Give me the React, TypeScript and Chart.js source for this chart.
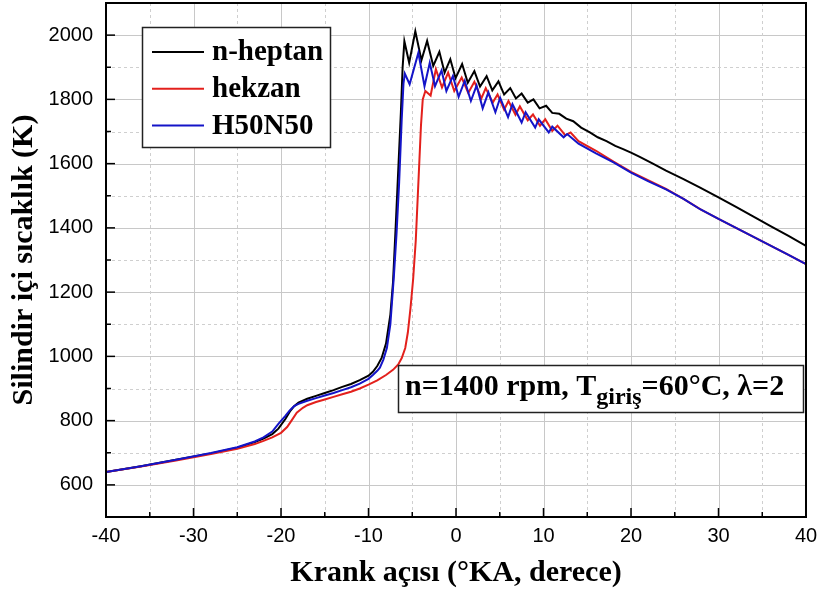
import React, { useEffect, useRef } from 'react';
import { Chart, registerables } from 'chart.js';

Chart.register(...registerables);

// ---- data ----
const seriesLabels = ['n-heptan', 'hekzan', 'H50N50'];
const seriesColors = ['#000000', '#e3201c', '#1414c8'];

const heptanAngle = [-40, -36, -32, -28, -25, -23, -22, -21, -20.3, -19.5, -19, -18.5, -18, -17, -16, -15, -14, -13, -12, -11, -10, -9.5, -9, -8.5, -8, -7.5, -7.2, -6.9, -6.6, -6.3, -6.1, -5.9, -5.35, -4.65, -3.95, -3.3, -2.6, -1.9, -1.3, -0.65, -0.05, 0.7, 1.35, 2.1, 2.75, 3.5, 4.15, 4.85, 5.5, 6.2, 6.85, 7.5, 8.2, 8.85, 9.55, 10.3, 11.0, 11.8, 12.6, 13.4, 14.3, 15.3, 16.2, 17.2, 18.2, 19.1, 20, 21, 22.5, 24, 26, 27.9, 30, 32, 34, 36, 38, 40];
const heptanTemp = [640, 658, 678, 698, 716, 733, 744, 758, 775, 805, 828, 845, 856, 868, 877, 886, 895, 905, 914, 926, 940, 952, 970, 995, 1040, 1130, 1230, 1400, 1580, 1760, 1900, 1981, 1914, 2012, 1922, 1982, 1904, 1948, 1883, 1925, 1866, 1910, 1852, 1888, 1840, 1872, 1828, 1856, 1815, 1835, 1803, 1818, 1790, 1800, 1772, 1780, 1758, 1755, 1740, 1732, 1712, 1697, 1682, 1670, 1655, 1645, 1634, 1621, 1600, 1578, 1552, 1525, 1495, 1465, 1435, 1405, 1375, 1344];

const hekzanAngle = [-40, -36, -32, -28, -25, -23, -22, -21, -20, -19.3, -18.8, -18.2, -17.5, -17, -16, -15, -14, -13, -12, -11, -10, -9, -8, -7.2, -6.6, -6.2, -5.8, -5.5, -5.2, -4.9, -4.6, -4.3, -4.0, -3.8, -3.5, -2.9, -2.3, -1.6, -0.9, -0.2, 0.65, 1.4, 2.1, 2.9, 3.4, 4.2, 4.75, 5.5, 6.0, 6.8, 7.3, 8.2, 8.8, 9.6, 10.2, 11.0, 11.6, 12.5, 13.1, 14, 16, 18, 20, 22, 24, 26, 28, 30, 32, 34, 36, 38, 40];
const hekzanTemp = [640, 657, 676, 696, 712, 727, 737, 748, 762, 780, 800, 825, 840, 848, 858, 866, 874, 882, 890, 900, 912, 925, 942, 958, 975, 995, 1026, 1075, 1150, 1240, 1360, 1540, 1720, 1800, 1826, 1812, 1894, 1837, 1883, 1826, 1868, 1820, 1855, 1803, 1835, 1790, 1815, 1768, 1795, 1752, 1778, 1735, 1753, 1718, 1738, 1702, 1718, 1688, 1697, 1670, 1640, 1606, 1574, 1548, 1521, 1490, 1457, 1428, 1400, 1372, 1344, 1316, 1287];

const h50n50Angle = [-40, -36, -32, -28, -25, -23, -22, -21, -20.3, -19.5, -19, -18.5, -18, -17, -16, -15, -14, -13, -12, -11, -10, -9.5, -9, -8.7, -8.3, -7.9, -7.5, -7.1, -6.8, -6.5, -6.2, -6.0, -5.85, -5.3, -4.3, -3.6, -3.0, -2.4, -1.65, -1.1, -0.35, 0.3, 1.0, 1.7, 2.35, 3.05, 3.7, 4.5, 5.05, 5.95, 6.45, 7.5, 7.95, 9.05, 9.45, 10.6, 11.0, 12.3, 12.7, 14, 16, 18, 20, 22, 24, 26, 27.9, 30, 32, 34, 36, 38, 40];
const h50n50Temp = [640, 658, 678, 699, 717, 735, 748, 766, 790, 815, 832, 845, 852, 862, 870, 878, 886, 895, 904, 915, 930, 942, 955, 965, 990, 1026, 1100, 1250, 1380, 1540, 1740, 1850, 1880, 1847, 1945, 1841, 1914, 1841, 1890, 1826, 1873, 1808, 1858, 1795, 1843, 1772, 1822, 1760, 1805, 1745, 1785, 1728, 1760, 1712, 1738, 1697, 1715, 1682, 1692, 1662, 1632, 1604, 1572, 1545, 1520, 1490, 1458, 1428, 1400, 1372, 1344, 1316, 1287];

const xTickValues = [-40, -30, -20, -10, 0, 10, 20, 30, 40];
const xMinorValues = [-35, -25, -15, -5, 5, 15, 25, 35];
const yTickValues = [600, 800, 1000, 1200, 1400, 1600, 1800, 2000];
const yMinorValues = [700, 900, 1100, 1300, 1500, 1700, 1900];

const xTitle = 'Krank açısı (°KA, derece)';
const yTitle = 'Silindir içi sıcaklık (K)';
const noteMain = 'n=1400 rpm, T';
const noteSub = 'giriş';
const noteTail = '=60°C, λ=2';

const SERIF = '"Liberation Serif", "Times New Roman", serif';
const SANS = '"Liberation Sans", Arial, sans-serif';

const toPoints = (xs: number[], ys: number[]) => xs.map((x, i) => ({ x, y: ys[i] }));

const decorPlugin = {
  id: 'decor',
  beforeDatasetsDraw(chart: any) {
    const { ctx, chartArea: a, scales } = chart;
    const xs = scales.x;
    const ys = scales.y;
    ctx.save();
    ctx.lineWidth = 1;
    ctx.strokeStyle = '#c8c8c8';
    ctx.setLineDash([]);
    xTickValues.forEach((v) => {
      const px = Math.round(xs.getPixelForValue(v)) + 0.5;
      ctx.beginPath(); ctx.moveTo(px, a.top); ctx.lineTo(px, a.bottom); ctx.stroke();
    });
    yTickValues.forEach((v) => {
      const py = Math.round(ys.getPixelForValue(v)) + 0.5;
      ctx.beginPath(); ctx.moveTo(a.left, py); ctx.lineTo(a.right, py); ctx.stroke();
    });
    ctx.strokeStyle = '#cfcfcf';
    ctx.setLineDash([3, 3]);
    xMinorValues.forEach((v) => {
      const px = Math.round(xs.getPixelForValue(v)) + 0.5;
      ctx.beginPath(); ctx.moveTo(px, a.top); ctx.lineTo(px, a.bottom); ctx.stroke();
    });
    yMinorValues.forEach((v) => {
      const py = Math.round(ys.getPixelForValue(v)) + 0.5;
      ctx.beginPath(); ctx.moveTo(a.left, py); ctx.lineTo(a.right, py); ctx.stroke();
    });
    ctx.restore();
  },
  afterDatasetsDraw(chart: any) {
    const { ctx, chartArea: a, scales } = chart;
    const xs = scales.x;
    const ys = scales.y;
    ctx.save();
    ctx.setLineDash([]);
    ctx.strokeStyle = '#000';
    ctx.lineWidth = 1.5;
    const tick = (v: number, len: number, horiz: boolean) => {
      if (horiz) {
        const px = xs.getPixelForValue(v);
        ctx.beginPath(); ctx.moveTo(px, a.bottom); ctx.lineTo(px, a.bottom - len); ctx.stroke();
      } else {
        const py = ys.getPixelForValue(v);
        ctx.beginPath(); ctx.moveTo(a.left, py); ctx.lineTo(a.left + len, py); ctx.stroke();
      }
    };
    xTickValues.forEach((v) => tick(v, 9, true));
    xMinorValues.forEach((v) => tick(v, 5, true));
    yTickValues.forEach((v) => tick(v, 9, false));
    yMinorValues.forEach((v) => tick(v, 5, false));
    ctx.lineWidth = 2;
    ctx.strokeRect(a.left, a.top, a.right - a.left, a.bottom - a.top);

    // legend
    const lx = 142, ly = 27, lw = 188, lh = 120;
    ctx.fillStyle = '#fff';
    ctx.fillRect(lx, ly, lw, lh);
    ctx.lineWidth = 1.5;
    ctx.strokeStyle = '#222';
    ctx.strokeRect(lx + 0.5, ly + 0.5, lw, lh);
    ctx.font = `bold 29px ${SERIF}`;
    ctx.textBaseline = 'middle';
    ctx.textAlign = 'left';
    chart.data.datasets.forEach((ds: any, i: number) => {
      const rowY = ly + 25 + i * 36.7;
      ctx.strokeStyle = ds.borderColor;
      ctx.lineWidth = 2;
      ctx.beginPath(); ctx.moveTo(lx + 10, rowY); ctx.lineTo(lx + 62, rowY); ctx.stroke();
      ctx.fillStyle = '#000';
      ctx.fillText(ds.label, lx + 70, rowY + 1);
    });

    // note box
    const nx = 398, ny = 365, nw = 405, nh = 47;
    ctx.fillStyle = '#fff';
    ctx.fillRect(nx, ny, nw, nh);
    ctx.strokeStyle = '#222';
    ctx.lineWidth = 1.5;
    ctx.strokeRect(nx + 0.5, ny + 0.5, nw, nh);
    ctx.fillStyle = '#000';
    ctx.textBaseline = 'alphabetic';
    const base = 395;
    let cx = 405;
    ctx.font = `bold 30px ${SERIF}`;
    ctx.fillText(noteMain, cx, base);
    cx += ctx.measureText(noteMain).width;
    ctx.font = `bold 24px ${SERIF}`;
    ctx.fillText(noteSub, cx, base + 9);
    cx += ctx.measureText(noteSub).width;
    ctx.font = `bold 30px ${SERIF}`;
    ctx.fillText(noteTail, cx, base);
    ctx.restore();
  },
};

export default function App() {
  const ref = useRef<HTMLCanvasElement>(null);
  useEffect(() => {
    document.body.style.margin = '0';
    const canvas = ref.current;
    if (!canvas) return;
    const mk = (i: number, xs: number[], ys: number[], order: number) => ({
      label: seriesLabels[i],
      data: toPoints(xs, ys),
      borderColor: seriesColors[i],
      backgroundColor: seriesColors[i],
      borderWidth: 2,
      pointRadius: 0,
      tension: 0,
      fill: false,
      order,
    });
    const chart = new Chart(canvas, {
      type: 'line',
      data: {
        datasets: [
          mk(0, heptanAngle, heptanTemp, 2),
          mk(1, hekzanAngle, hekzanTemp, 1),
          mk(2, h50n50Angle, h50n50Temp, 0),
        ],
      },
      options: {
        responsive: false,
        maintainAspectRatio: false,
        animation: false,
        layout: { padding: { left: 0, right: 13, top: 3, bottom: 0 } },
        plugins: { legend: { display: false }, tooltip: { enabled: false } },
        scales: {
          x: {
            type: 'linear',
            min: -40,
            max: 40,
            grid: { display: false, drawTicks: false },
            border: { display: false },
            afterBuildTicks: (s: any) => { s.ticks = xTickValues.map((v) => ({ value: v })); },
            afterFit: (s: any) => { s.height = 78; s.paddingLeft = 0; s.paddingRight = 0; },
            ticks: {
              font: { family: SANS, size: 20 },
              color: '#000',
              padding: 7,
              maxRotation: 0,
              autoSkip: false,
              callback: (v: any) => String(v),
            },
            title: {
              display: true,
              text: xTitle,
              color: '#000',
              font: { family: SERIF, size: 30, weight: 'bold' },
              padding: { top: 0, bottom: 4 },
            },
          },
          y: {
            type: 'linear',
            min: 500,
            max: 2100,
            grid: { display: false, drawTicks: false },
            border: { display: false },
            afterBuildTicks: (s: any) => { s.ticks = yTickValues.map((v) => ({ value: v })); },
            afterFit: (s: any) => { s.width = 106; s.paddingTop = 0; s.paddingBottom = 0; },
            ticks: {
              font: { family: SANS, size: 20 },
              color: '#000',
              padding: 13,
              autoSkip: false,
              callback: (v: any) => String(v),
            },
            title: {
              display: true,
              text: yTitle,
              color: '#000',
              font: { family: SERIF, size: 30, weight: 'bold' },
              padding: { top: 6, bottom: 0 },
            },
          },
        },
      } as any,
      plugins: [decorPlugin],
    });
    return () => chart.destroy();
  }, []);
  return (
    <canvas
      ref={ref}
      width={819}
      height={595}
      style={{ display: 'block', width: '819px', height: '595px' }}
    />
  );
}
